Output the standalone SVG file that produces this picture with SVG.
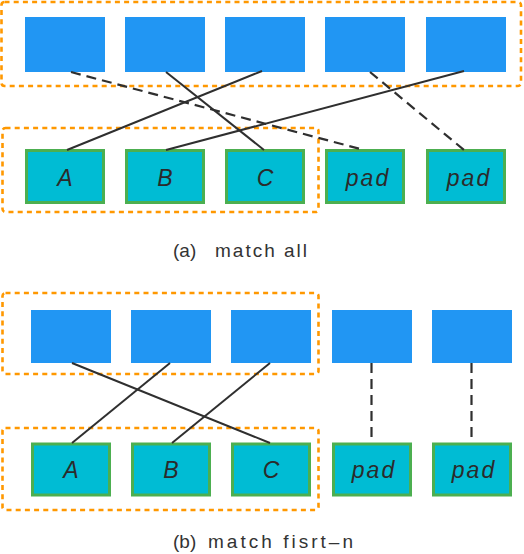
<svg xmlns="http://www.w3.org/2000/svg" width="524" height="554" viewBox="0 0 524 554">
<style>
.grp{fill:none;stroke:#FF9800;stroke-width:2.6;stroke-dasharray:5 4.2}
.src{fill:#2196F3}
.dst{fill:#00BCD4;stroke:#4CAF50;stroke-width:3}
.lbl{font-family:"Liberation Sans",Arial,sans-serif;font-style:italic;font-size:23px;fill:#2b2b2b;text-anchor:middle}
.cap{font-family:"Liberation Sans",Arial,sans-serif;font-size:19px;fill:#333}
.ln{stroke:#2f2f2f;stroke-width:2;fill:none}
.dl{stroke:#2f2f2f;stroke-width:2.2;fill:none;stroke-dasharray:10 6}
</style>
<rect width="524" height="554" fill="#fff"/>
<!-- (a) -->
<g id="groupA-top"><rect class="grp" x="1.5" y="2" width="519.5" height="84" rx="3"/></g>
<g id="groupA-bottom"><rect class="grp" x="2.5" y="128" width="316" height="84" rx="3"/></g>
<g id="a-s1"><rect class="src" x="25" y="17" width="80" height="55"/></g>
<g id="a-s2"><rect class="src" x="125" y="17" width="80" height="55"/></g>
<g id="a-s3"><rect class="src" x="225" y="17" width="80" height="55"/></g>
<g id="a-s4"><rect class="src" x="325" y="17" width="80" height="55"/></g>
<g id="a-s5"><rect class="src" x="426" y="17" width="80" height="55"/></g>
<g id="a-A"><rect class="dst" x="26.5" y="150.5" width="77" height="52"/><text class="lbl" x="65" y="185.5">A</text></g>
<g id="a-B"><rect class="dst" x="126.5" y="150.5" width="77" height="52"/><text class="lbl" x="165" y="185.5">B</text></g>
<g id="a-C"><rect class="dst" x="226.5" y="150.5" width="77" height="52"/><text class="lbl" x="265" y="185.5">C</text></g>
<g id="a-pad1"><rect class="dst" x="326.5" y="150.5" width="77" height="52"/><text class="lbl" x="368" y="185.5" letter-spacing="2">pad</text></g>
<g id="a-pad2"><rect class="dst" x="427.5" y="150.5" width="77" height="52"/><text class="lbl" x="469" y="185.5" letter-spacing="2">pad</text></g>
<g id="a-connectors">
<line class="dl" x1="71" y1="72" x2="364" y2="150"/>
<line class="ln" x1="166" y1="72" x2="264" y2="150"/>
<line class="ln" x1="262" y1="71" x2="67" y2="150" stroke-width="2.6"/>
<line class="ln" x1="464" y1="71" x2="166" y2="150"/>
<line class="dl" x1="370" y1="72" x2="464" y2="150"/>
</g>
<text class="cap" x="173" y="257">(a)</text>
<text class="cap" x="215" y="257" textLength="92" lengthAdjust="spacing">match all</text>
<!-- (b) -->
<g id="groupB-top"><rect class="grp" x="2.5" y="293" width="316" height="81" rx="3"/></g>
<g id="groupB-bottom"><rect class="grp" x="2.5" y="428" width="316" height="82" rx="3"/></g>
<g id="b-s1"><rect class="src" x="31" y="310" width="80" height="53"/></g>
<g id="b-s2"><rect class="src" x="131" y="310" width="80" height="53"/></g>
<g id="b-s3"><rect class="src" x="231" y="310" width="80" height="53"/></g>
<g id="b-s4"><rect class="src" x="332" y="310" width="80" height="53"/></g>
<g id="b-s5"><rect class="src" x="432" y="310" width="80" height="53"/></g>
<g id="b-A"><rect class="dst" x="32.5" y="444" width="77" height="51"/><text class="lbl" x="71" y="478">A</text></g>
<g id="b-B"><rect class="dst" x="132.5" y="444" width="77" height="51"/><text class="lbl" x="171" y="478">B</text></g>
<g id="b-C"><rect class="dst" x="232.5" y="444" width="77" height="51"/><text class="lbl" x="271" y="478">C</text></g>
<g id="b-pad1"><rect class="dst" x="333.5" y="444" width="77" height="51"/><text class="lbl" x="374" y="478" letter-spacing="2">pad</text></g>
<g id="b-pad2"><rect class="dst" x="433.5" y="444" width="77" height="51"/><text class="lbl" x="474" y="478" letter-spacing="2">pad</text></g>
<g id="b-connectors">
<line class="ln" x1="72" y1="363" x2="270" y2="443"/>
<line class="ln" x1="170" y1="363" x2="72" y2="443"/>
<line class="ln" x1="270" y1="363" x2="172" y2="443"/>
<line class="dl" x1="371.5" y1="363" x2="371.5" y2="443"/>
<line class="dl" x1="471.5" y1="363" x2="471.5" y2="443"/>
</g>
<text class="cap" x="173" y="548">(b)</text>
<text class="cap" x="208" y="548" textLength="145" lengthAdjust="spacing">match fisrt–n</text>
</svg>
